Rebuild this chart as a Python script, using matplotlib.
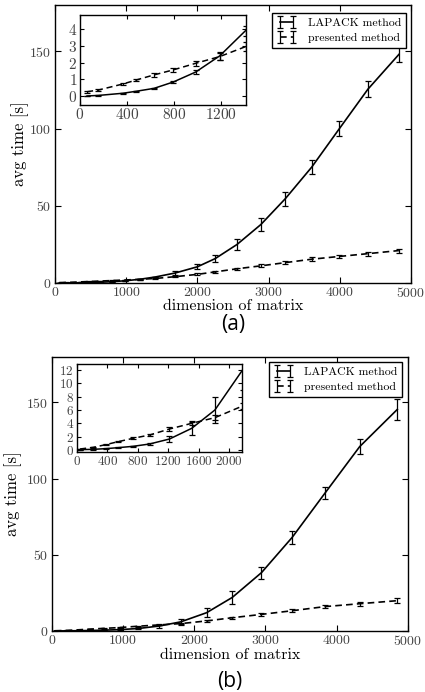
import matplotlib
matplotlib.use("Agg")
import matplotlib.pyplot as plt

plt.rcParams['font.family'] = ['cmr10', 'DejaVu Serif']
plt.rcParams['axes.unicode_minus'] = False
plt.rcParams['axes.formatter.use_mathtext'] = True
plt.rcParams['mathtext.fontset'] = 'cm'

# ---------------- data: panel (a) ----------------
a_n = [60, 155, 365, 480, 630, 795, 985, 1190, 1410, 1690, 2000, 2250, 2555,
       2890, 3235, 3605, 3995, 4395, 4830]
a_lapack = [0.02, 0.05, 0.18, 0.3, 0.47, 0.85, 1.44, 2.4, 3.9, 6.5, 10.5, 15.8,
            24.9, 37.8, 54.6, 75.0, 100.0, 125.5, 148.0]
a_lapack_err = [0.01, 0.02, 0.03, 0.04, 0.05, 0.07, 0.12, 0.25, 0.3, 1.0, 1.5,
                2.5, 3.5, 4.0, 4.5, 4.5, 5.0, 5.0, 5.0]
a_pres = [0.27, 0.37, 0.73, 0.97, 1.27, 1.57, 1.96, 2.36, 2.95, 4.1, 5.6, 7.2,
          9.2, 11.1, 13.2, 15.4, 17.2, 19.0, 21.0]
a_pres_err = [0.05, 0.05, 0.05, 0.08, 0.1, 0.12, 0.15, 0.22, 0.25, 0.5, 0.6,
              0.7, 0.8, 1.0, 1.1, 1.2, 1.2, 1.3, 1.3]

# ---------------- data: panel (b) ----------------
b_n = [44, 217, 380, 543, 738, 955, 1216, 1507, 1811, 2173, 2533, 2944, 3374,
       3832, 4322, 4850]
b_lapack = [0.05, 0.1, 0.2, 0.35, 0.55, 0.9, 1.65, 3.25, 6.0, 12.0, 22.0, 38.3,
            61.4, 90.3, 121.0, 145.4]
b_lapack_err = [0.02, 0.03, 0.05, 0.07, 0.1, 0.2, 0.5, 1.0, 1.9, 3.0, 4.0, 4.0,
                4.0, 4.0, 5.0, 7.0]
b_pres = [0.15, 0.4, 0.8, 1.25, 1.75, 2.25, 3.15, 4.0, 4.85, 6.6, 8.7, 10.9,
          13.3, 16.0, 17.9, 19.9]
b_pres_err = [0.05, 0.08, 0.1, 0.12, 0.15, 0.2, 0.25, 0.3, 0.4, 0.5, 0.6, 0.8,
              1.0, 1.1, 1.3, 1.5]

labels = ['LAPACK method', 'presented method']
main_xticks = [0, 1000, 2000, 3000, 4000, 5000]
main_yticks = [0, 50, 100, 150]
a_in_xticks = [0, 400, 800, 1200]
a_in_yticks = [0, 1, 2, 3, 4]
b_in_xticks = [0, 400, 800, 1200, 1600, 2000]
b_in_yticks = [0, 2, 4, 6, 8, 10, 12]

W, H = 425, 692
fig = plt.figure(figsize=(W / 100, H / 100), dpi=100)


def box(l, t, r, b):
    return [l / W, 1 - b / H, (r - l) / W, (b - t) / H]


def style(ax, fs):
    ax.tick_params(direction='in', top=True, right=True, labelsize=fs,
                   labelcolor='#444444', length=4, width=0.8, pad=2.5)
    for s in ax.spines.values():
        s.set_linewidth(1.0)


def draw(ax, n, lap, lerr, pres, perr, lw, cap):
    ax.errorbar(n, lap, yerr=lerr, color='black', lw=lw, capsize=cap,
                elinewidth=0.9, capthick=0.9, label=labels[0])
    ax.errorbar(n, pres, yerr=perr, color='black', lw=lw, ls='--',
                dashes=(4, 2.5), capsize=cap, elinewidth=0.9,
                capthick=0.9, label=labels[1])


def panel(main_box, inset_box, n, lap, lerr, pres, perr, in_xlim, in_ylim,
          in_xt, in_yt, in_fs, leg_anchor, ylab_x, xlab_y, tag, tag_y):
    ax = fig.add_axes(box(*main_box))
    draw(ax, n, lap, lerr, pres, perr, 1.2, 2.4)
    ax.set_xlim(0, 5000)
    ax.set_ylim(0, 180)
    ax.set_xticks(main_xticks)
    ax.set_yticks(main_yticks)
    style(ax, 10)
    ax.set_ylabel('avg time [s]', fontsize=12, va='center')
    ax.yaxis.set_label_coords((ylab_x - main_box[0]) / (main_box[2] - main_box[0]), 0.5)
    ax.set_xlabel('dimension of matrix', fontsize=11.5, va='center')
    ax.xaxis.set_label_coords(0.5, -(xlab_y - main_box[3]) / (main_box[3] - main_box[1]))
    leg = ax.legend(loc='upper right', bbox_to_anchor=leg_anchor,
                    bbox_transform=fig.transFigure, numpoints=2, fontsize=8.5,
                    fancybox=False, edgecolor='black', framealpha=1,
                    borderaxespad=0, handlelength=1.7, borderpad=0.4,
                    labelspacing=0.4, handletextpad=0.9)
    leg.get_frame().set_linewidth(1.0)

    ins = fig.add_axes(box(*inset_box))
    draw(ins, n, lap, lerr, pres, perr, 1.1, 2.2)
    ins.set_xlim(*in_xlim)
    ins.set_ylim(*in_ylim)
    ins.set_xticks(in_xt)
    ins.set_yticks(in_yt)
    style(ins, in_fs)
    ins.tick_params(length=3, pad=2)

    fig.text(0.5 * (main_box[0] + main_box[2]) / W, 1 - tag_y / H, tag,
             family='Open Sans', fontsize=15, ha='center', va='center')


panel((55, 5, 411, 283), (80, 14.7, 245.5, 104.7), a_n, a_lapack, a_lapack_err,
      a_pres, a_pres_err, (0, 1410), (-0.5, 4.85), a_in_xticks, a_in_yticks, 11,
      (405.7 / W, 1 - 13.3 / H), 20, 306, '(a)', 324)
panel((51.7, 356.7, 408, 631), (76.7, 364, 242.3, 452), b_n, b_lapack, b_lapack_err,
      b_pres, b_pres_err, (0, 2170), (-0.3, 12.9), b_in_xticks, b_in_yticks, 9.5,
      (402.3 / W, 1 - 362 / H), 13, 655, '(b)', 681)

fig.savefig('out.png', dpi=100)
